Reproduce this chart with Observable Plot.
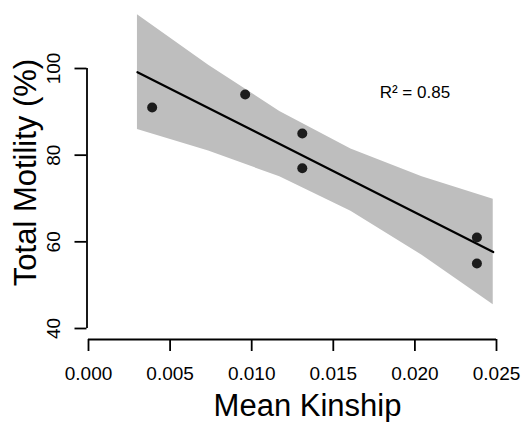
<!DOCTYPE html>
<html><head><meta charset="utf-8">
<script src="https://cdn.jsdelivr.net/npm/d3@7"></script>
<script src="https://cdn.jsdelivr.net/npm/@observablehq/plot@0.6"></script>
<style>
body{margin:0;background:#fff;}
#chart svg{font-family:"Liberation Sans",Arial,Helvetica,sans-serif;background:#fff;}
</style>
</head><body><div id="chart"></div>
<script>
// Data
const kinship  = [0.0039, 0.0096, 0.0131, 0.0131, 0.0238, 0.0238];
const motility = [91, 94, 85, 77, 61, 55];
const xTicks = [0, 0.005, 0.010, 0.015, 0.020, 0.025];
const yTicks = [40, 60, 80, 100];
const fitRange = [0.003, 0.0248];   // x-extent of the fitted line and band
const bandSteps = 6;                // number of prediction points for the CI polygon
const tCrit = 2.776445;             // t(0.975, df = n - 2 = 4)
const r2Label = "R² = 0.85";
const r2Pos = {x: 0.0200, y: 93.1};
const xLabel = "Mean Kinship";
const yLabel = "Total Motility (%)";
const yDomain = [37.46, 100];

// Linear regression with 95% confidence band
const n = kinship.length;
const mx = d3.mean(kinship), my = d3.mean(motility);
const sxx = d3.sum(kinship, x => (x - mx) ** 2);
const sxy = d3.sum(kinship, (x, i) => (x - mx) * (motility[i] - my));
const slope = sxy / sxx, intercept = my - slope * mx;
const sse = d3.sum(kinship, (x, i) => (motility[i] - (intercept + slope * x)) ** 2);
const s = Math.sqrt(sse / (n - 2));
const bandX = d3.range(bandSteps).map(i => fitRange[0] + i * (fitRange[1] - fitRange[0]) / (bandSteps - 1));
const band = bandX.map(x => {
  const yhat = intercept + slope * x;
  const se = s * Math.sqrt(1 / n + (x - mx) ** 2 / sxx);
  return {x, lo: yhat - tCrit * se, hi: yhat + tCrit * se};
});
const fitLine = fitRange.map(x => ({x, y: intercept + slope * x}));
const points = kinship.map((x, i) => ({x, y: motility[i]}));

const chart = Plot.plot({
  width: 524,
  height: 422,
  marginLeft: 88,
  marginRight: 28,
  marginTop: 68,
  marginBottom: 83,
  style: {color: "black", background: "white"},
  x: {domain: [xTicks[0], xTicks[xTicks.length - 1]], axis: null, label: null},
  y: {domain: yDomain, axis: null, label: null},
  marks: [
    Plot.areaY(band, {x: "x", y1: "lo", y2: "hi", fill: "#bebebe"}),
    Plot.line(fitLine, {x: "x", y: "y", stroke: "black", strokeWidth: 2.2}),
    Plot.dot(points, {x: "x", y: "y", r: 5, fill: "#1c1c1c", stroke: "none"}),
    Plot.ruleY([yDomain[0]], {x1: xTicks[0], x2: xTicks[xTicks.length - 1], stroke: "black", strokeWidth: 1.8}),
    Plot.ruleX([xTicks[0]], {y1: yTicks[0], y2: yTicks[yTicks.length - 1], dx: -1.5, stroke: "black", strokeWidth: 1.8}),
    Plot.axisX(xTicks, {label: null, tickSize: 12, tickPadding: 15, fontSize: 19, strokeWidth: 1.8, tickFormat: d3.format(".3f")}),
    Plot.axisY(yTicks, {label: null, tickSize: 12, tickPadding: 15, fontSize: 19, strokeWidth: 1.8, tickRotate: -90, dx: -1.5}),
    Plot.text([r2Label], {x: () => r2Pos.x, y: () => r2Pos.y, text: d => d, fontSize: 17, textAnchor: "middle", lineAnchor: "bottom", fill: "black"}),
    Plot.text([xLabel], {frameAnchor: "bottom", text: d => d, dx: 15, dy: 76, fontSize: 31, textAnchor: "middle", lineAnchor: "bottom", fill: "black"}),
    Plot.text([yLabel], {frameAnchor: "left", text: d => d, rotate: -90, dx: -53, dy: -31.5, fontSize: 31, textAnchor: "middle", lineAnchor: "bottom", fill: "black"})
  ]
});
document.getElementById("chart").appendChild(chart);
</script>
</body></html>
